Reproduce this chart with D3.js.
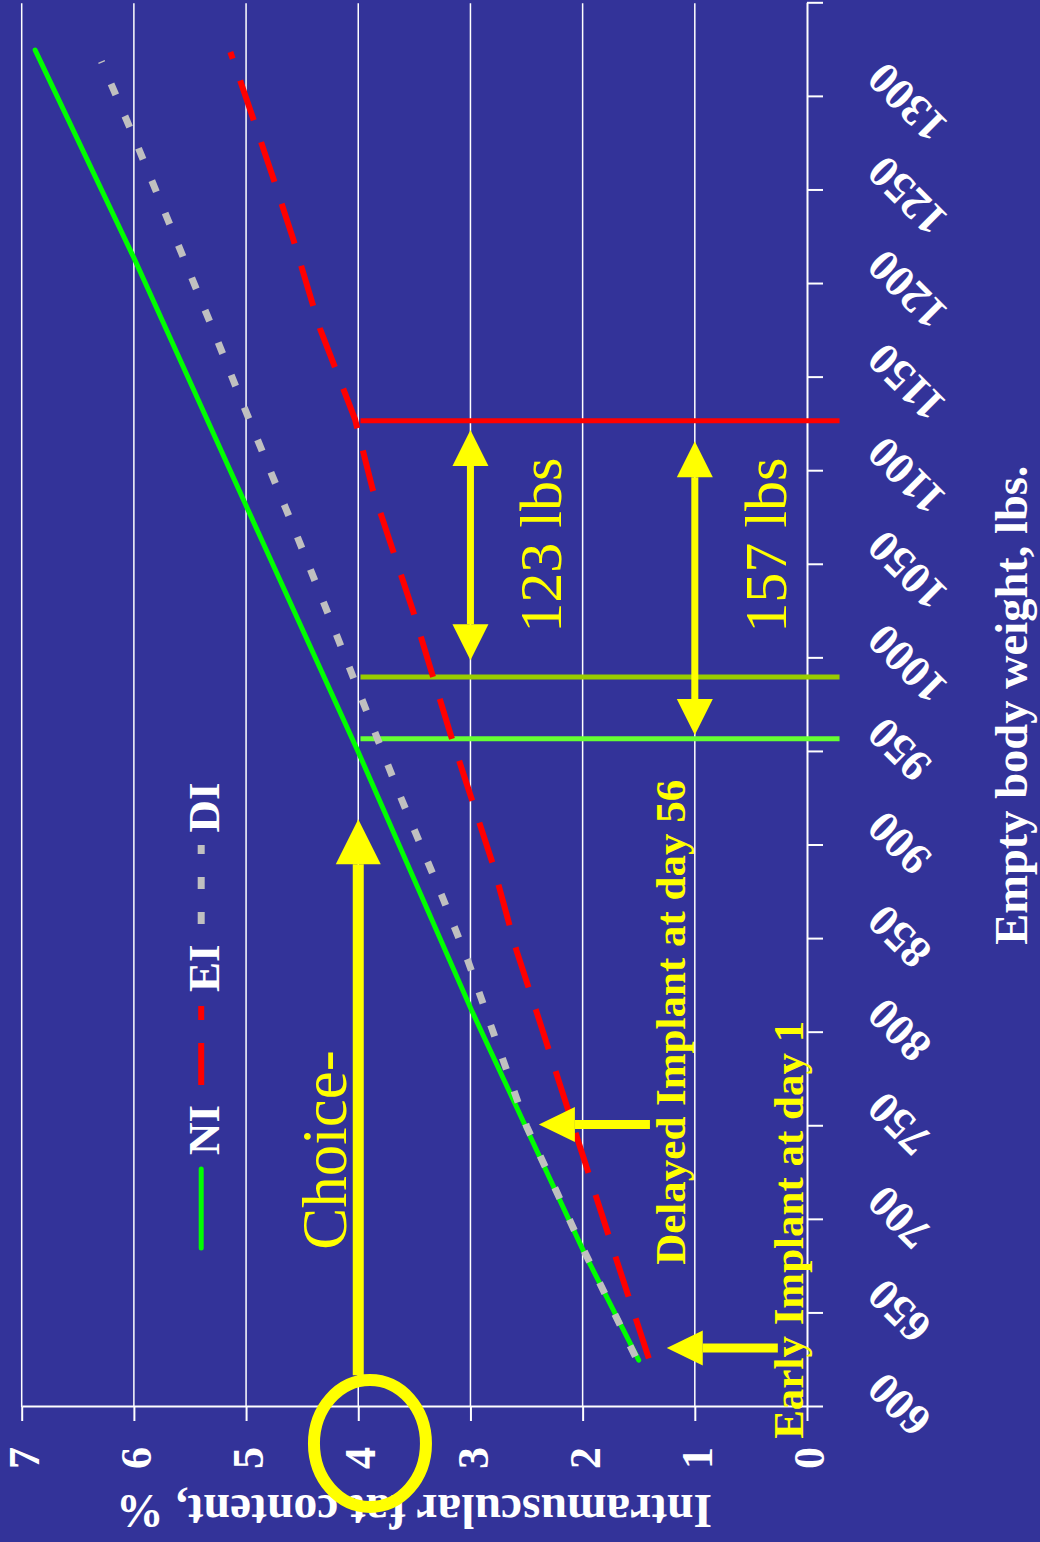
<!DOCTYPE html>
<html>
<head>
<meta charset="utf-8">
<script src="https://cdn.jsdelivr.net/npm/d3@7"></script>
<style>
  html, body { margin: 0; padding: 0; background: #333399; }
  svg { display: block; }
  text { font-family: "Liberation Serif", "Times New Roman", Times, serif; }
</style>
</head>
<body>
<svg id="chart" width="1040" height="1542"></svg>
<script>
// ---- axis ticks -------------------------------------------------------
const weightTicks = [600, 650, 700, 750, 800, 850, 900, 950, 1000, 1050, 1100, 1150, 1200, 1250, 1300, 1350];
const weightLabels = ["600", "650", "700", "750", "800", "850", "900", "950", "1000", "1050", "1100", "1150", "1200", "1250", "1300"];
const fatTicks = [0, 1, 2, 3, 4, 5, 6, 7];
const fatLabels = ["0", "1", "2", "3", "4", "5", "6", "7"];

// ---- series: empty body weight (lbs) vs intramuscular fat (%) ----------
const seriesNames = ["NI", "EI", "DI"];
const niWeight = [625, 683, 812, 950, 1079, 1214, 1325];
const niFat    = [1.50, 1.99, 2.99, 4.00, 4.98, 6.00, 6.88];
const eiWeight = [626, 679, 744, 811, 844, 890, 925, 958, 1025, 1090, 1128, 1176, 1224, 1257, 1289, 1324];
const eiFat    = [1.41, 1.70, 2.05, 2.41, 2.59, 2.80, 2.99, 3.17, 3.51, 3.87, 4.03, 4.34, 4.58, 4.76, 4.94, 5.14];
const diWeight = [627, 690, 750, 838, 874, 927, 980, 1015, 1069, 1139, 1175, 1210, 1245, 1280, 1319];
const diFat    = [1.53, 2.04, 2.50, 3.02, 3.26, 3.63, 3.98, 4.21, 4.57, 5.05, 5.29, 5.53, 5.77, 6.01, 6.29];

// ---- annotations --------------------------------------------------------
const choiceFat = 4;                      // Choice grade threshold, %
const thresholdWeight = [957, 990, 1127]; // weight where NI, DI, EI reach the threshold
const gapStart = [999, 959];              // lower end of each weight gap
const gapSpan  = [123, 157];              // lbs between implant strategies
const gapFat   = [3, 1];                  // fat level the gap arrows sit on
const gapLabelWeight = 1060.5;            // both gap labels share this position
const implantText   = ["Delayed Implant at day 56", "Early Implant at day 1"];
const implantWeight = [751, 631.5];       // weight at implant time
const implantTipFat = [2.39, 1.25];
const implantTailFat = [1.40, 0.26];
const choiceArrowWeight = [617, 914];

// ---- styles -------------------------------------------------------------
const BG = "#333399", WHITE = "#ffffff", YELLOW = "#ffff00";
const seriesStyle = {
  NI: { color: "#00ff00", width: 5, dash: null, cap: "round" },
  EI: { color: "#ff0000", width: 6, dash: "42 23", cap: "butt" },
  DI: { color: "#c0c0c0", width: 7, dash: "12 23", cap: "butt" }
};
const thresholdColors = ["#66ff33", "#99cc00", "#ff0000"];

// Chart is laid out landscape (weight across, fat up) and turned a quarter turn
const PAGE_H = 1542;
const svg = d3.select("#chart");
svg.append("rect").attr("width", 1040).attr("height", PAGE_H).attr("fill", BG);
const g = svg.append("g").attr("transform", `translate(0,${PAGE_H}) rotate(-90)`);

const x = d3.scaleLinear().domain([600, 1350]).range([135, 1538.7]);
const y = d3.scaleLinear().domain([0, 7]).range([807, 21.7]);

// gridlines
g.append("g").selectAll("line").data(fatTicks.filter(d => d > 0)).join("line")
  .attr("x1", x(600)).attr("x2", x(1350))
  .attr("y1", d => y(d)).attr("y2", d => y(d))
  .attr("stroke", WHITE).attr("stroke-width", 1.5);

// weight axis
const xAxis = g.append("g").attr("transform", `translate(0,${y(0)})`)
  .call(d3.axisBottom(x).tickValues(weightTicks).tickSize(16).tickSizeOuter(0).tickFormat(""));
xAxis.selectAll("path, line").attr("stroke", WHITE).attr("stroke-width", 2);

g.append("g").selectAll("text").data(weightLabels).join("text")
  .attr("transform", d => `translate(${x(+d) + 37},${y(0) + 79}) rotate(-45)`)
  .attr("text-anchor", "end")
  .attr("fill", WHITE).attr("font-weight", "bold").attr("font-size", 45)
  .text(d => d);

// fat axis
const yAxis = g.append("g").attr("transform", `translate(${x(600)},0)`)
  .call(d3.axisLeft(y).tickValues(fatTicks).tickSize(14).tickSizeOuter(0)
    .tickPadding(26).tickFormat((d, i) => fatLabels[i]));
yAxis.selectAll("path, line").attr("stroke", WHITE).attr("stroke-width", 2);
yAxis.selectAll("text").attr("fill", WHITE).attr("font-weight", "bold")
  .attr("font-size", 44).attr("dy", "0.38em")
  .style("font-family", '"Liberation Serif", "Times New Roman", serif');

// axis titles
g.append("text").attr("x", x(975)).attr("y", 1027).attr("text-anchor", "middle")
  .attr("fill", WHITE).attr("font-weight", "bold").attr("font-size", 46.5)
  .text("Empty body weight, lbs.");
g.append("text").attr("transform", `translate(47,${y(3.5)}) rotate(-90)`)
  .attr("text-anchor", "middle")
  .attr("fill", WHITE).attr("font-weight", "bold").attr("font-size", 47.5)
  .text("Intramuscular fat content, %");

// threshold markers (weight at which each curve reaches Choice)
g.append("g").selectAll("line").data(thresholdWeight).join("line")
  .attr("x1", d => x(d)).attr("x2", d => x(d))
  .attr("y1", y(choiceFat - 0.02)).attr("y2", y(-0.29))
  .attr("stroke", (d, i) => thresholdColors[i]).attr("stroke-width", 5);

// series lines
const seriesData = {
  NI: niWeight.map((w, i) => [w, niFat[i]]),
  EI: eiWeight.map((w, i) => [w, eiFat[i]]),
  DI: diWeight.map((w, i) => [w, diFat[i]])
};
const line = d3.line().x(d => x(d[0])).y(d => y(d[1]));
seriesNames.forEach(name => {
  const s = seriesStyle[name];
  g.append("path").datum(seriesData[name]).attr("d", line)
    .attr("fill", "none").attr("stroke", s.color).attr("stroke-width", s.width)
    .attr("stroke-linecap", s.cap).attr("stroke-linejoin", "round")
    .attr("stroke-dasharray", s.dash);
});

// legend
const legend = g.append("g").attr("transform", `translate(${x(685)},${y(5.4)})`);
const legendItems = [
  { name: "NI", lineAt: 0, textAt: 93 },
  { name: "EI", lineAt: 163, textAt: 256 },
  { name: "DI", lineAt: 324, textAt: 415.5 }
];
legendItems.forEach(item => {
  const s = seriesStyle[item.name];
  legend.append("line").attr("x1", item.lineAt).attr("x2", item.lineAt + 79)
    .attr("y1", 0).attr("y2", 0)
    .attr("stroke", s.color).attr("stroke-width", s.width)
    .attr("stroke-linecap", s.cap).attr("stroke-dasharray", s.dash);
  legend.append("text").attr("x", item.textAt).attr("y", 17.6)
    .attr("fill", WHITE).attr("font-weight", "bold").attr("font-size", 45)
    .text(item.name);
});

// arrow helper: shaft from (x0,y0) to (x1,y1), filled head(s)
function arrow(parent, x0, y0, x1, y1, shaft, headW, headL, both) {
  const dx = x1 - x0, dy = y1 - y0, len = Math.hypot(dx, dy);
  const ux = dx / len, uy = dy / len, px = -uy, py = ux;
  const a0 = both ? headL : 0;
  parent.append("line")
    .attr("x1", x0 + ux * a0).attr("y1", y0 + uy * a0)
    .attr("x2", x1 - ux * headL).attr("y2", y1 - uy * headL)
    .attr("stroke", YELLOW).attr("stroke-width", shaft);
  const head = (tx, ty, sx, sy) => {
    const bx = tx - sx * headL, by = ty - sy * headL;
    return [[tx, ty], [bx + px * headW / 2, by + py * headW / 2], [bx - px * headW / 2, by - py * headW / 2]];
  };
  parent.append("polygon").attr("points", head(x1, y1, ux, uy).join(" ")).attr("fill", YELLOW);
  if (both) parent.append("polygon").attr("points", head(x0, y0, -ux, -uy).join(" ")).attr("fill", YELLOW);
}

const ann = g.append("g");

// weight gaps between implant strategies
gapSpan.forEach((span, i) => {
  arrow(ann, x(gapStart[i]), y(gapFat[i]), x(gapStart[i] + span), y(gapFat[i]), 7, 36, 36, true);
  ann.append("text").attr("x", x(gapLabelWeight)).attr("y", y(gapFat[i]) + 91)
    .attr("text-anchor", "middle").attr("fill", YELLOW).attr("font-size", 60)
    .text(`${span} lbs`);
});

// Choice threshold marker around the 4 % tick and arrow up to the curves
ann.append("ellipse").attr("cx", x(600) - 36.5).attr("cy", y(choiceFat) + 11.7)
  .attr("rx", 63.5).attr("ry", 56)
  .attr("fill", "none").attr("stroke", YELLOW).attr("stroke-width", 12);
arrow(ann, x(choiceArrowWeight[0]), y(choiceFat), x(choiceArrowWeight[1]), y(choiceFat), 11, 45, 45, false);
ann.append("text").attr("x", x(684)).attr("y", y(4.11))
  .attr("fill", YELLOW).attr("font-size", 63).text("Choice-");

// implant timing arrows and labels
implantWeight.forEach((w, i) => {
  arrow(ann, x(w), y(implantTailFat[i]), x(w), y(implantTipFat[i]), 9, 35, 36, false);
});
ann.append("text").attr("x", x(676)).attr("y", y(1.09))
  .attr("fill", YELLOW).attr("font-weight", "bold").attr("font-size", 43)
  .text(implantText[0]);
ann.append("text").attr("x", x(583)).attr("y", y(0.036))
  .attr("fill", YELLOW).attr("font-weight", "bold").attr("font-size", 43)
  .text(implantText[1]);
</script>
</body>
</html>
